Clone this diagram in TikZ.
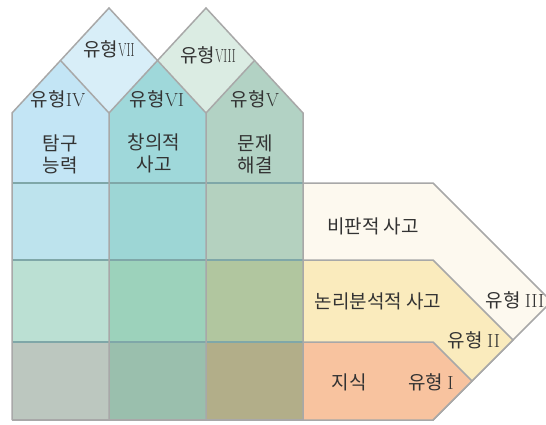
\documentclass[tikz,border=0pt]{standalone}
\usepackage{fontspec}
\newfontfamily\kr{Noto Sans CJK KR}
\definecolor{edge}{HTML}{A8A8A8}
\definecolor{rowline}{HTML}{7FA7A8}
\definecolor{txt}{HTML}{333333}
\definecolor{dVII}{HTML}{D8EEF8}
\definecolor{dVIII}{HTML}{DBECE3}
\definecolor{tA}{HTML}{C3E5F5}
\definecolor{tB}{HTML}{9FD8DA}
\definecolor{tC}{HTML}{B2D2C4}
\definecolor{aA}{HTML}{BDE3ED}
\definecolor{aB}{HTML}{9DD6D5}
\definecolor{aC}{HTML}{B4D1BF}
\definecolor{bA}{HTML}{BBE0D3}
\definecolor{bB}{HTML}{9CD2BB}
\definecolor{bC}{HTML}{B1C69F}
\definecolor{cA}{HTML}{BCC7BF}
\definecolor{cB}{HTML}{9ABFAD}
\definecolor{cC}{HTML}{B2AE89}
\definecolor{pIII}{HTML}{FDF9EF}
\definecolor{pII}{HTML}{FAEBBD}
\definecolor{pI}{HTML}{F8C39F}
\newcommand\rnum[1]{{\rmfamily #1}}
\newcommand\rnarrow[1]{{\rmfamily\scalebox{0.62}[1]{#1}}}
\tikzset{
  shapeline/.style={draw=edge, line width=1.5pt, line join=miter},
  lbl/.style={font=\kr\fontsize{19}{22}\selectfont, text=txt, inner sep=0pt, align=center},
}
\begin{document}
\begin{tikzpicture}[x=1pt,y=-1pt]
\useasboundingbox (0,0) rectangle (546,425);
% right side stacked pentagons
\begin{scope}
\clip (0,0) rectangle (546,425);
\filldraw[shapeline, fill=pIII] (303,183) -- (433,183) -- (551.5,301.5) -- (433,420) -- (303,420) -- cycle;
\end{scope}
\filldraw[shapeline, fill=pII] (303,260) -- (433,260) -- (513,340) -- (433,420) -- (303,420) -- cycle;
\filldraw[shapeline, fill=pI] (303,342) -- (433,342) -- (472,381) -- (433,420) -- (303,420) -- cycle;
% diamonds
\fill[dVII] (61,61) -- (109,8) -- (157,61) -- (109,113) -- cycle;
\fill[dVIII] (157,61) -- (206,8) -- (254,61) -- (206,113) -- cycle;
% column tops
\fill[tA] (12,183) -- (12,113) -- (61,61) -- (109,113) -- (109,183) -- cycle;
\fill[tB] (109,183) -- (109,113) -- (157,61) -- (206,113) -- (206,183) -- cycle;
\fill[tC] (206,183) -- (206,113) -- (254,61) -- (303,113) -- (303,183) -- cycle;
% grid cells
\fill[aA] (12,183) rectangle (109,260);
\fill[aB] (109,183) rectangle (206,260);
\fill[aC] (206,183) rectangle (303,260);
\fill[bA] (12,260) rectangle (109,342);
\fill[bB] (109,260) rectangle (206,342);
\fill[bC] (206,260) rectangle (303,342);
\fill[cA] (12,342) rectangle (109,420);
\fill[cB] (109,342) rectangle (206,420);
\fill[cC] (206,342) rectangle (303,420);
% row lines
\draw[rowline, line width=1.2pt] (12,183) -- (303,183);
\draw[rowline, line width=1.2pt] (12,260) -- (303,260);
\draw[rowline, line width=1.2pt] (12,342) -- (303,342);
% roof lines
\draw[shapeline] (12,420) -- (12,113) -- (109,8) -- (206,113);
\draw[shapeline] (109,420) -- (109,113) -- (206,8) -- (303,113) -- (303,420);
\draw[shapeline] (61,61) -- (109,113);
\draw[shapeline] (206,420) -- (206,113) -- (254,61);
\draw[shapeline] (12,420) -- (303,420);
% labels
\node[lbl] (t7) at (109,49) {유형\rnarrow{VII}};
\node[lbl] (t8) at (208,55) {유형\rnarrow{VIII}};
\node[lbl] (t4) at (58,99) {유형\rnum{IV}};
\node[lbl] (t6) at (157,99) {유형\rnum{VI}};
\node[lbl] (t5) at (255,99) {유형\rnum{V}};
\node[lbl] (c1) at (60,154) {탐구\\능력};
\node[lbl] (c2) at (154,153) {창의적\\사고};
\node[lbl] (c3) at (255,154) {문제\\해결};
\node[lbl] (r3) at (373,226) {비판적 사고};
\node[lbl] (r2) at (378,301) {논리분석적 사고};
\node[lbl] (r1) at (349,382) {지식};
\node[lbl] (u3) at (515,300) {유형 \rnum{III}};
\node[lbl] (u2) at (474,340) {유형 \rnum{II}};
\node[lbl] (u1) at (431,382) {유형 \rnum{I}};
\end{tikzpicture}
\end{document}
